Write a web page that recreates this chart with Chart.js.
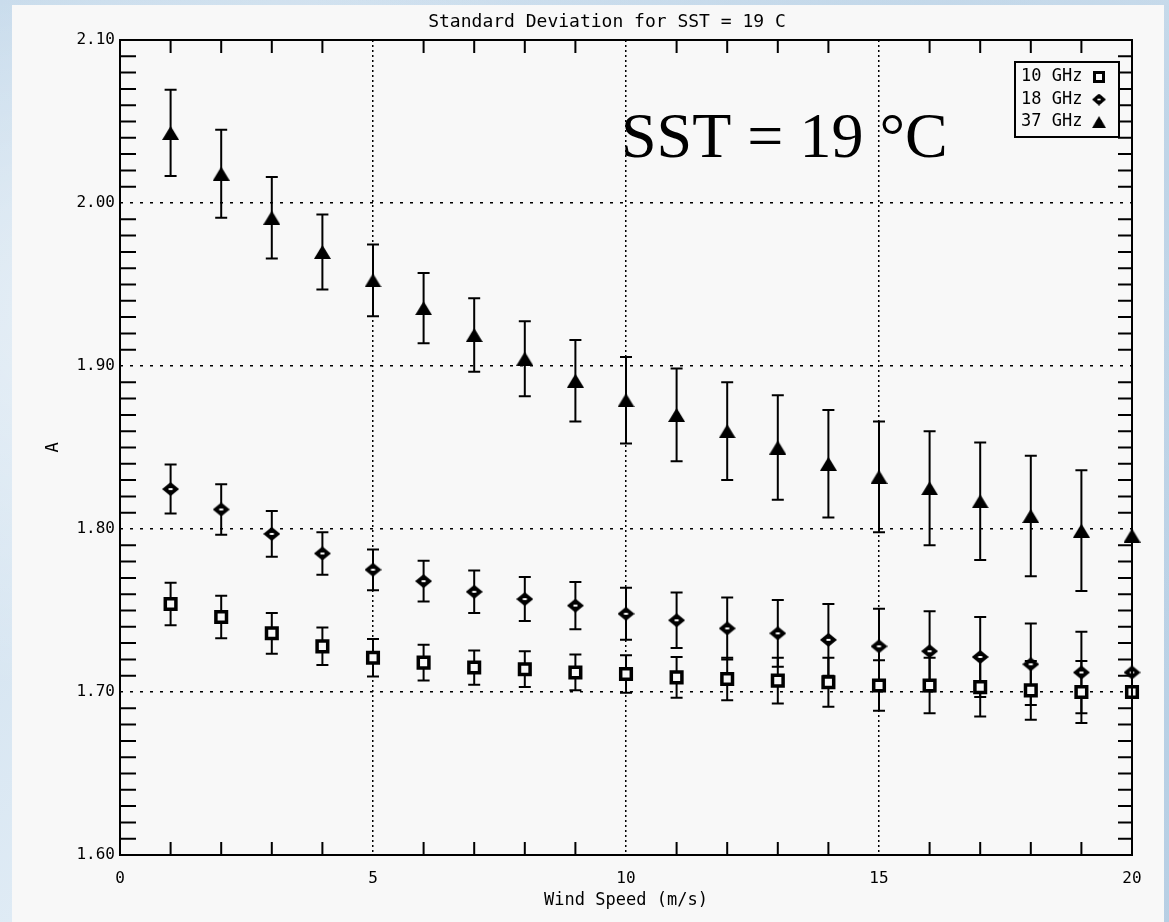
<!DOCTYPE html>
<html>
<head>
<meta charset="utf-8">
<script src="https://cdn.jsdelivr.net/npm/chart.js@4"></script>
<style>
  html, body { margin: 0; padding: 0; }
  body {
    width: 1169px; height: 922px; overflow: hidden; position: relative;
    background:
      radial-gradient(ellipse at 15% 35%, rgba(255,255,255,0.55), rgba(255,255,255,0) 45%),
      radial-gradient(ellipse at 85% 15%, rgba(150,185,215,0.5), rgba(150,185,215,0) 50%),
      radial-gradient(ellipse at 95% 80%, rgba(170,200,225,0.5), rgba(170,200,225,0) 45%),
      linear-gradient(135deg, #c6daeb, #e2edf6 50%, #bed3e6);
  }
  #panel { position: absolute; left: 12px; top: 5px; width: 1152px; height: 917px; background: #f8f8f8; }
  #chart { position: absolute; left: 0; top: 0; }
</style>
</head>
<body>
<div id="panel"></div>
<canvas id="chart" width="1169" height="922"></canvas>
<script>
// wind speed (m/s)
const windSpeed = [1, 2, 3, 4, 5, 6, 7, 8, 9, 10, 11, 12, 13, 14, 15, 16, 17, 18, 19, 20];

// 10 GHz
const sd10 = [1.754, 1.746, 1.736, 1.728, 1.721, 1.718, 1.715, 1.714, 1.712, 1.711,
              1.709, 1.708, 1.707, 1.706, 1.704, 1.704, 1.703, 1.701, 1.700, 1.700];
const err10 = [0.013, 0.013, 0.0125, 0.0115, 0.0115, 0.011, 0.0105, 0.011, 0.011, 0.0115,
               0.0125, 0.013, 0.014, 0.015, 0.0155, 0.017, 0.018, 0.018, 0.019, null];

// 18 GHz
const sd18 = [1.8245, 1.812, 1.797, 1.785, 1.775, 1.768, 1.7615, 1.757, 1.753, 1.748,
              1.744, 1.739, 1.736, 1.732, 1.728, 1.725, 1.7215, 1.717, 1.712, 1.712];
const err18 = [0.015, 0.0155, 0.014, 0.013, 0.0125, 0.0125, 0.013, 0.0135, 0.0145, 0.016,
               0.017, 0.019, 0.0205, 0.022, 0.023, 0.0245, 0.0245, 0.025, 0.025, null];

// 37 GHz
const sd37 = [2.043, 2.018, 1.991, 1.970, 1.9525, 1.9355, 1.919, 1.9045, 1.891, 1.879,
              1.870, 1.860, 1.850, 1.840, 1.832, 1.825, 1.817, 1.808, 1.799, 1.796];
const err37 = [0.0265, 0.027, 0.025, 0.023, 0.022, 0.0215, 0.0225, 0.023, 0.025, 0.0265,
               0.0285, 0.030, 0.032, 0.033, 0.034, 0.035, 0.036, 0.037, 0.037, null];

const seriesLabels = ["10 GHz", "18 GHz", "37 GHz"];
const xTicks = [0, 5, 10, 15, 20];
const yTicks = [1.6, 1.7, 1.8, 1.9, 2.0, 2.1];
const chartTitle = "Standard Deviation for SST = 19 C";
const xTitle = "Wind Speed (m/s)";
const yTitle = "A";
const note = "SST = 19 °C";

const mono = "'DejaVu Sans Mono', monospace";
const paper = "#f8f8f8";

function diamondMark() {
    const c = document.createElement("canvas");
    c.width = 17; c.height = 14;
    const g = c.getContext("2d");
    g.fillStyle = "#000";
    g.beginPath();
    g.moveTo(0, 7); g.lineTo(8.5, 0); g.lineTo(17, 7); g.lineTo(8.5, 14);
    g.closePath();
    g.fill();
    g.fillStyle = paper;
    g.fillRect(6.5, 6, 4, 2);
    return c;
}

function triangleMark() {
    const c = document.createElement("canvas");
    c.width = 17; c.height = 14;
    const g = c.getContext("2d");
    g.fillStyle = "#000";
    g.beginPath();
    g.moveTo(8.5, 0); g.lineTo(17, 14); g.lineTo(0, 14);
    g.closePath();
    g.fill();
    return c;
}

const diamond = diamondMark();
const triangle = triangleMark();

const toPoints = (ys) => windSpeed.map((x, i) => ({ x: x, y: ys[i] }));

// vertical error bars under the markers
const errorBars = {
    id: "errorBars",
    beforeDatasetsDraw(chart) {
        const { ctx, scales: { y } } = chart;
        ctx.save();
        ctx.strokeStyle = "#000";
        ctx.lineWidth = 2;
        chart.data.datasets.forEach((ds, i) => {
            chart.getDatasetMeta(i).data.forEach((pt, j) => {
                const e = ds.errors[j];
                if (e == null) return;
                const top = y.getPixelForValue(ds.data[j].y + e);
                const bot = y.getPixelForValue(ds.data[j].y - e);
                ctx.beginPath();
                ctx.moveTo(pt.x, top); ctx.lineTo(pt.x, bot);
                ctx.moveTo(pt.x - 6, top); ctx.lineTo(pt.x + 6, top);
                ctx.moveTo(pt.x - 6, bot); ctx.lineTo(pt.x + 6, bot);
                ctx.stroke();
            });
        });
        ctx.restore();
    },
};

// box, inward minor ticks, title, legend box and the big note
const frame = {
    id: "frame",
    afterDraw(chart) {
        const { ctx, chartArea: a, scales: { x, y } } = chart;
        ctx.save();
        ctx.strokeStyle = "#000";
        ctx.lineWidth = 2;
        ctx.strokeRect(a.left, a.top, a.right - a.left, a.bottom - a.top);

        ctx.beginPath();
        for (let v = 1; v < 20; v++) {
            if (v % 5 === 0) continue;
            const px = x.getPixelForValue(v);
            ctx.moveTo(px, a.bottom); ctx.lineTo(px, a.bottom - 13);
            ctx.moveTo(px, a.top); ctx.lineTo(px, a.top + 13);
        }
        for (let k = 1; k < 50; k++) {
            if (k % 10 === 0) continue;
            const py = y.getPixelForValue(1.6 + k * 0.01);
            ctx.moveTo(a.left, py); ctx.lineTo(a.left + 16, py);
            ctx.moveTo(a.right, py); ctx.lineTo(a.right - 14, py);
        }
        ctx.stroke();

        // chart title
        ctx.fillStyle = "#000";
        ctx.font = "18px " + mono;
        ctx.textAlign = "center";
        ctx.textBaseline = "middle";
        ctx.fillText(chartTitle, (a.left + a.right) / 2 - 19, 22);

        // note
        ctx.font = "64px 'Liberation Serif', 'Times New Roman', serif";
        ctx.textAlign = "left";
        ctx.textBaseline = "alphabetic";
        ctx.fillText(note, a.left + 501, a.top + 117);

        // legend
        const lx = a.right - 117, ly = a.top + 22;
        ctx.fillStyle = paper;
        ctx.fillRect(lx, ly, 104, 75);
        ctx.strokeRect(lx, ly, 104, 75);
        ctx.fillStyle = "#000";
        ctx.font = "17px " + mono;
        ctx.textBaseline = "middle";
        seriesLabels.forEach((lab, i) => {
            const ty = ly + 15 + i * 22.5;
            ctx.fillText(lab, lx + 6, ty);
            const mx = lx + 84;
            if (i === 0) {
                ctx.lineWidth = 3;
                ctx.strokeRect(mx - 4.5, ty - 4.5, 9, 9);
            } else {
                ctx.drawImage(i === 1 ? diamond : triangle, mx - 7, ty - 6, 14, 12);
            }
        });
        ctx.restore();
    },
};

new Chart(document.getElementById("chart"), {
    type: "scatter",
    data: {
        datasets: [
            {
                label: seriesLabels[0],
                data: toPoints(sd10),
                errors: err10,
                pointStyle: "rect",
                pointRadius: 7.5,
                borderWidth: 3.5,
                borderColor: "#000",
                backgroundColor: paper,
                clip: false,
            },
            {
                label: seriesLabels[1],
                data: toPoints(sd18),
                errors: err18,
                pointStyle: diamond,
                clip: false,
            },
            {
                label: seriesLabels[2],
                data: toPoints(sd37),
                errors: err37,
                pointStyle: triangle,
                clip: false,
            },
        ],
    },
    options: {
        responsive: false,
        animation: false,
        events: [],
        layout: { padding: { left: 30, right: 37, top: 40, bottom: 0 } },
        plugins: {
            legend: { display: false },
            tooltip: { enabled: false },
            title: { display: false },
        },
        scales: {
            x: {
                type: "linear",
                min: 0,
                max: 20,
                afterBuildTicks: (s) => { s.ticks = xTicks.map((v) => ({ value: v })); },
                afterFit: (s) => { s.height = 67; },
                ticks: {
                    color: "#000",
                    font: { family: mono, size: 16 },
                    padding: 14,
                    maxRotation: 0,
                    autoSkip: false,
                },
                grid: { color: "#000", lineWidth: 1.5, drawTicks: false },
                border: { display: false, dash: [2, 3] },
                title: {
                    display: true,
                    text: xTitle,
                    color: "#000",
                    font: { family: mono, size: 17 },
                    padding: { top: 0, bottom: 11 },
                },
            },
            y: {
                type: "linear",
                min: 1.6,
                max: 2.1,
                afterBuildTicks: (s) => { s.ticks = yTicks.map((v) => ({ value: v })); },
                afterFit: (s) => { s.width = 90; },
                ticks: {
                    color: "#000",
                    font: { family: mono, size: 16 },
                    padding: 5,
                    callback: (v) => Number(v).toFixed(2),
                },
                grid: { color: "#000", lineWidth: 1.5, drawTicks: false },
                border: { display: false, dash: [3, 7] },
                title: {
                    display: true,
                    text: yTitle,
                    color: "#000",
                    font: { family: mono, size: 17 },
                    padding: { top: 13, bottom: 0 },
                },
            },
        },
    },
    plugins: [errorBars, frame],
});
</script>
</body>
</html>
